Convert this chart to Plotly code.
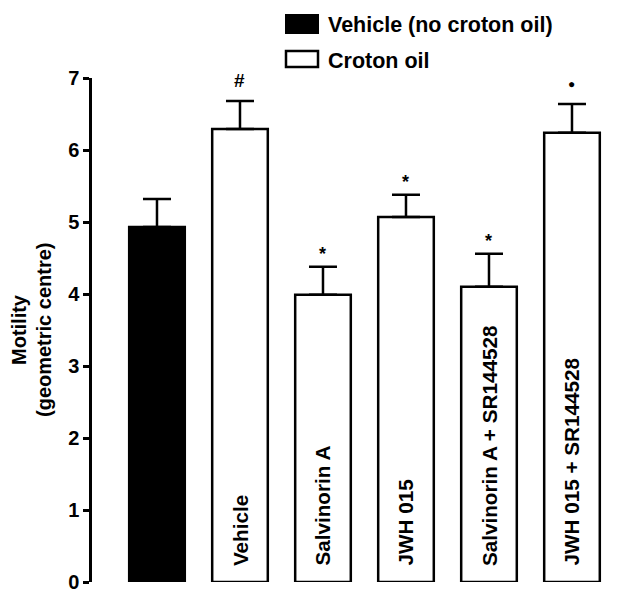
import plotly.graph_objects as go

categories = ["Vehicle (no croton oil)", "Vehicle", "Salvinorin A", "JWH 015",
              "Salvinorin A + SR144528", "JWH 015 + SR144528"]
bar_labels = ["", "Vehicle", "Salvinorin A", "JWH 015",
              "Salvinorin A + SR144528", "JWH 015 + SR144528"]
means = [4.93, 6.29, 3.99, 5.07, 4.10, 6.24]
sems = [0.39, 0.39, 0.39, 0.31, 0.46, 0.40]
marks = ["", "#", "*", "*", "*", "•"]
groups = ["Vehicle (no croton oil)", "Croton oil", "Croton oil", "Croton oil", "Croton oil", "Croton oil"]
y_ticks = [0, 1, 2, 3, 4, 5, 6, 7]

FONT = "Liberation Sans"
FS = 20

xs = list(range(len(categories)))
fills = ["black" if g == "Vehicle (no croton oil)" else "white" for g in groups]

fig = go.Figure()
fig.add_trace(go.Bar(
    x=xs, y=means, width=0.67,
    marker=dict(color=fills, line=dict(color="black", width=2.5)),
    error_y=dict(type="data", array=sems, arrayminus=[0] * len(sems), symmetric=False,
                 thickness=2.5, width=14, color="black"),
    showlegend=False, hoverinfo="skip",
))

# rotated labels inside bars
for x, lab in zip(xs, bar_labels):
    if lab:
        fig.add_annotation(x=x, y=0.2, text=f"<b>{lab}</b>", textangle=-90,
                           xanchor="center", yanchor="bottom", showarrow=False,
                           font=dict(family=FONT, size=20.7, color="black"))

# significance marks
for x, m, s, e in zip(xs, marks, means, sems):
    if not m:
        continue
    if m == "*":
        fig.add_annotation(x=x, y=s + e, text="<b>*</b>", showarrow=False, yanchor="bottom",
                           yshift=1, font=dict(family=FONT, size=18, color="black"))
    elif m == "#":
        fig.add_annotation(x=x, y=s + e, text="<b>#</b>", showarrow=False, yanchor="bottom",
                           yshift=8, font=dict(family=FONT, size=19, color="black"))
    else:
        fig.add_annotation(x=x, y=s + e, text="●", showarrow=False, yanchor="bottom",
                           yshift=11, font=dict(family=FONT, size=12, color="black"))

# legend (manual); page body has an 8px margin
def px_x(p):
    return (p - 92) / 520

def px_y(p):
    return (582 - p) / 504

fig.add_shape(type="rect", xref="paper", yref="paper",
              x0=px_x(286), x1=px_x(318), y0=px_y(33), y1=px_y(15),
              fillcolor="black", line=dict(color="black", width=2))
fig.add_shape(type="rect", xref="paper", yref="paper",
              x0=px_x(286), x1=px_x(318), y0=px_y(67), y1=px_y(51),
              fillcolor="white", line=dict(color="black", width=2.5))
fig.add_annotation(xref="paper", yref="paper", x=px_x(326), y=px_y(25),
                   text="<b>Vehicle (no croton oil)</b>", showarrow=False,
                   xanchor="left", yanchor="middle",
                   font=dict(family=FONT, size=21.5, color="black"))
fig.add_annotation(xref="paper", yref="paper", x=px_x(326), y=px_y(61),
                   text="<b>Croton oil</b>", showarrow=False,
                   xanchor="left", yanchor="middle",
                   font=dict(family=FONT, size=21.5, color="black"))

# y-axis title (two lines)
fig.add_annotation(xref="paper", yref="paper", x=px_x(19), y=0.5, text="<b>Motility</b>",
                   textangle=-90, showarrow=False, xanchor="center", yanchor="middle",
                   font=dict(family=FONT, size=FS, color="black"))
fig.add_annotation(xref="paper", yref="paper", x=px_x(44), y=0.5,
                   text="<b>(geometric centre)</b>",
                   textangle=-90, showarrow=False, xanchor="center", yanchor="middle",
                   font=dict(family=FONT, size=FS, color="black"))

fig.update_layout(
    width=609, height=590,
    margin=dict(l=84, r=5, t=70, b=16),
    plot_bgcolor="white", paper_bgcolor="white",
    font=dict(family=FONT, size=FS, color="black"),
    xaxis=dict(range=[-0.783, 5.482], showticklabels=False, showline=False,
               showgrid=False, zeroline=False, ticks=""),
    yaxis=dict(range=[0, 7], tickvals=y_ticks, ticktext=[f"<b>{v}</b>" for v in y_ticks],
               showline=True, linecolor="black", linewidth=2.5,
               ticks="outside", ticklen=6, tickwidth=2.5, tickcolor="black",
               showgrid=False, zeroline=False,
               tickfont=dict(family=FONT, size=FS, color="black")),
)

fig.write_html("out.html")
